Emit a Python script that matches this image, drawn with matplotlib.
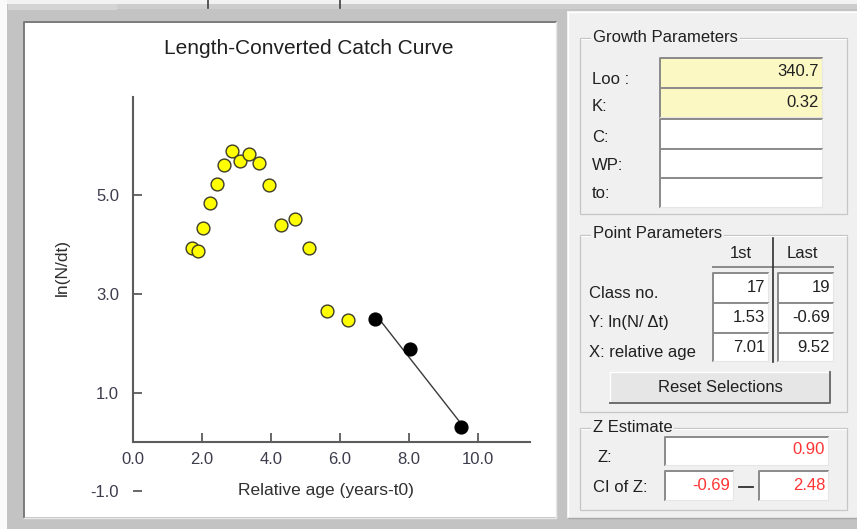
import numpy as np
import matplotlib
matplotlib.use("Agg")
import matplotlib.pyplot as plt
from matplotlib.patches import Rectangle
from matplotlib.lines import Line2D

plt.rcParams["font.family"] = ["Liberation Sans", "DejaVu Sans"]

# catch curve points (relative age, ln(N/dt)) as drawn against the axis labels
ages = [1.70, 1.88, 2.04, 2.23, 2.43, 2.64, 2.87, 3.10, 3.35, 3.64, 3.94, 4.30, 4.69, 5.11, 5.61, 6.24]
ln_n = [3.94, 3.87, 4.35, 4.84, 5.23, 5.62, 5.90, 5.69, 5.84, 5.66, 5.21, 4.40, 4.53, 3.94, 2.66, 2.47]
# points selected for the regression
sel_age = [7.01, 8.02, 9.51]
sel_ln = [2.50, 1.88, 0.30]

x_ticks = [0, 2, 4, 6, 8, 10]
y_ticks = [-1, 1, 3, 5]

growth_labels = ["Loo :", "K:", "C:", "WP:", "to:"]
growth_values = ["340.7", "0.32", "", "", ""]
point_labels = ["Class no.", "Y: ln(N/ \u0394t)", "X: relative age"]
first_values = ["17", "1.53", "7.01"]
last_values = ["19", "-0.69", "9.52"]
z_value = "0.90"
ci_low, ci_high = "-0.69", "2.48"

W, H = 857, 529
fig = plt.figure(figsize=(W / 100, H / 100), dpi=100, facecolor="#c3c3c3")


def fx(x):
    return x / W


def fy(y):
    return 1 - y / H


def rect(x0, y0, x1, y1, fc, ec="none", lw=0.0):
    fig.patches.append(Rectangle((fx(x0), fy(y1)), (x1 - x0) / W, (y1 - y0) / H,
                                 transform=fig.transFigure, facecolor=fc,
                                 edgecolor=ec, lw=lw, zorder=1))


def line(xs, ys, color, lw=0.72):
    fig.add_artist(Line2D([fx(x) for x in xs], [fy(y) for y in ys],
                          transform=fig.transFigure, color=color, lw=lw, zorder=2))


def txt(x, y, s, **kw):
    kw.setdefault("va", "center")
    kw.setdefault("fontsize", 12)
    kw.setdefault("color", "#202020")
    fig.text(fx(x), fy(y), s, zorder=3, **kw)


def field(x0, y0, x1, y1, fc="white"):
    rect(x0, y0, x1, y1, fc)
    line([x0, x0, x1], [y1, y0, y0], "#8a8a8a", 1.4)
    line([x0, x1, x1], [y1, y1, y0], "#e6e6e6", 0.8)


def group(x0, y0, x1, y1, title):
    rect(x0, y0, x1, y1, "none", "#c6c6c6", 0.9)
    line([x0 + 1, x1 - 1], [y0 + 1.2, y0 + 1.2], "white", 0.7)
    txt(x0 + 13, y0 - 1, title, ha="left",
        bbox=dict(boxstyle="square,pad=0.1", fc="#f0f0f0", ec="none"))


# window chrome
rect(0, 0, W, 4, "#f2f2f2")
rect(0, 0, 7, H, "#fafafa")
rect(8, 4, 117, 10, "#d4d4d4")
rect(117, 4, W, 9, "#cdcdcd")
line([208, 208], [0, 8], "#404040", 1.2)
line([340, 340], [0, 8], "#404040", 1.2)

# plot panel
rect(24, 21, 556, 517, "white")
line([23.5, 23.5, 556], [517, 21.5, 21.5], "#7a7a7a", 1.4)
line([23.5, 556, 556], [518, 518, 21.5], "#e8e8e8", 1.0)

# parameter panel
rect(567, 11, W, 518, "#f0f0f0")
line([567.5, 567.5, W], [518, 11.5, 11.5], "white", 1.0)
line([567.5, W], [518, 518], "#a8a8a8", 1.0)

# --- catch curve ---
ax = fig.add_axes([fx(133), fy(496.2), (529.75 - 133) / W, (496.2 - 96.9) / H])
ax.set_zorder(5)
ax.patch.set_alpha(0)
ax.set_xlim(0, 11.5)
ax.set_ylim(-1.1, 7.0)
for s in ["top", "right"]:
    ax.spines[s].set_visible(False)
ax.spines["bottom"].set_position(("data", 0))
ax.spines["left"].set_bounds(0, 7.0)
for s in ["bottom", "left"]:
    ax.spines[s].set_color("#5c5c5c")
    ax.spines[s].set_linewidth(1.5)
ax.set_xticks(x_ticks)
ax.set_xticklabels([f"{v:.1f}" for v in x_ticks])
ax.set_yticks(y_ticks)
ax.set_yticklabels([f"{v:.1f}" for v in y_ticks])
ax.tick_params(direction="in", length=6.5, width=1.3, color="#5c5c5c",
               labelsize=12, labelcolor="#3c3c4c")
ax.tick_params(axis="x", pad=7)
ax.tick_params(axis="y", pad=10)

ax.scatter(ages, ln_n, s=85, color="#ffff00", edgecolor="#3c3c28", linewidth=1.0, zorder=3)
ax.scatter(sel_age, sel_ln, s=85, color="black", zorder=3)
slope, icpt = np.polyfit(sel_age, sel_ln, 1)
fit_x = np.array([sel_age[0], sel_age[-1]])
ax.plot(fit_x, slope * fit_x + icpt, color="#3a3a3a", lw=1.0, zorder=2)

txt(309, 49, "Length-Converted Catch Curve", ha="center", fontsize=15)
txt(62, 267, "ln(N/dt)", ha="center", rotation=90, fontsize=12.5, color="#303030")
txt(326, 490, "Relative age (years-t0)", ha="center", fontsize=12.5, color="#303030")

# --- Growth Parameters ---
group(580, 38, 847, 214, "Growth Parameters")
rows = [(58, 87), (88, 117), (119, 148), (149, 177), (178, 207)]
label_y = [79, 107, 137, 165, 194]
for (y0, y1), ly, lab, val in zip(rows, label_y, growth_labels, growth_values):
    field(660, y0, 822, y1, "#fcf8c4" if val else "white")
    txt(592, ly, lab, ha="left")
    if val:
        txt(819, y0 + 14, val, ha="right")

# --- Point Parameters ---
group(580, 235, 847, 412, "Point Parameters")
txt(741, 253, "1st", ha="center")
txt(802, 253, "Last", ha="center")
line([713, 833], [267, 267], "#8a8a8a", 1.4)
line([773, 773], [238, 362], "#303030", 1.2)
prow = [(273, 302), (303, 332), (333, 361)]
plab_y = [293, 323, 352]
for (y0, y1), ly, lab, v1, v2 in zip(prow, plab_y, point_labels, first_values, last_values):
    field(713, y0, 768, y1)
    field(778, y0, 833, y1)
    txt(589, ly, lab, ha="left")
    txt(765, y0 + 14, v1, ha="right")
    txt(830, y0 + 14, v2, ha="right")

rect(610, 372, 830, 403, "#e6e6e6")
line([610, 610, 830], [403, 372, 372], "white", 1.0)
line([610, 830, 830], [403, 403, 372], "#6e6e6e", 1.4)
txt(720, 388, "Reset Selections", ha="center")

# --- Z Estimate ---
group(580, 428, 847, 510, "Z Estimate")
txt(597, 458, "Z:", ha="left")
field(665, 437, 828, 465)
txt(825, 450, z_value, ha="right", color="#ff3333")
txt(593, 487, "CI of Z:", ha="left")
field(665, 471, 733, 500)
field(759, 471, 828, 500)
txt(730, 486, ci_low, ha="right", color="#ff3333")
txt(825, 486, ci_high, ha="right", color="#ff3333")
line([739, 753], [487, 487], "#303030", 1.3)

fig.savefig("out.png", dpi=100, facecolor=fig.get_facecolor())
print("wrote out.png")
